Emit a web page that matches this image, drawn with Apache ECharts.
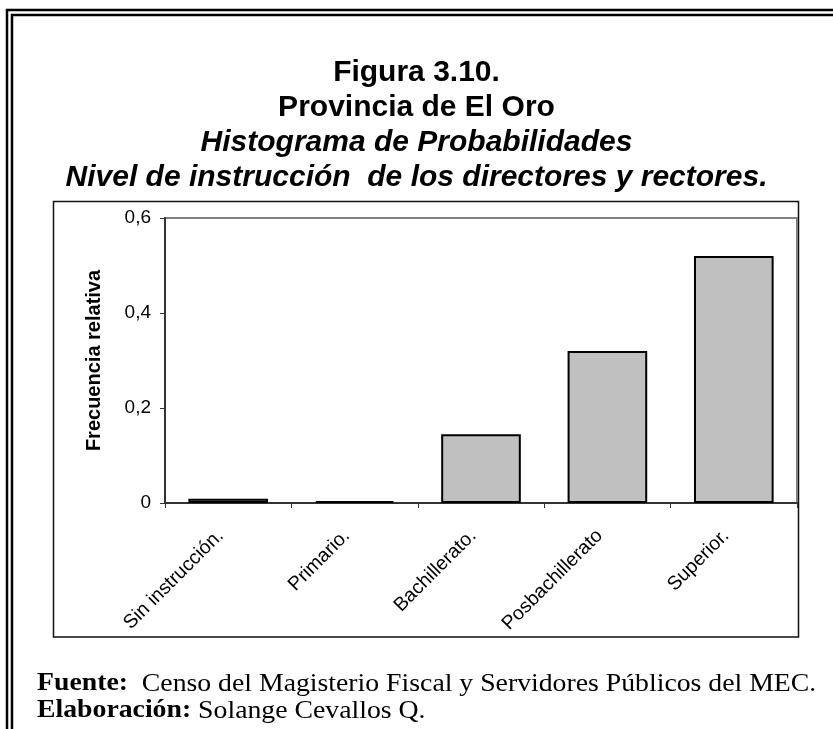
<!DOCTYPE html>
<html>
<head>
<meta charset="utf-8">
<script src="https://cdn.jsdelivr.net/npm/echarts@6/dist/echarts.min.js"></script>
<style>
html,body{margin:0;padding:0;background:#fff;}
#chart{width:833px;height:729px;}
</style>
</head>
<body>
<div id="chart"></div>
<script>
const categories = ['Sin instrucción.', 'Primario.', 'Bachillerato.', 'Posbachillerato', 'Superior.'];
const values = [0.009, 0.004, 0.145, 0.32, 0.52];
const yTicks = { min: 0, max: 0.6, interval: 0.2 };
const titleLines = ['Figura 3.10.', 'Provincia de El Oro', 'Histograma de Probabilidades', 'Nivel de instrucción  de los directores y rectores.'];
const yAxisName = 'Frecuencia relativa';
const sourceLabel = 'Fuente:';
const sourceText = '  Censo del Magisterio Fiscal y Servidores Públicos del MEC.';
const authorLabel = 'Elaboración:';
const authorText = ' Solange Cevallos Q.';

const chart = echarts.init(document.getElementById('chart'), null, { renderer: 'canvas' });

const sans = "'Liberation Sans', Arial, sans-serif";
const serif = "'Liberation Serif', 'Times New Roman', serif";
const titleTops = [58, 93, 128, 163];
const titleStyles = ['normal', 'normal', 'italic', 'italic'];

function footer(label, text, y) {
  return {
    type: 'text',
    x: 37,
    y: y,
    scaleX: 1.11,
    style: {
      text: '{b|' + label + '}{r|' + text + '}',
      verticalAlign: 'middle',
      align: 'left',
      rich: {
        b: { fontFamily: serif, fontWeight: 'bold', fontSize: 25, fill: '#000' },
        r: { fontFamily: serif, fontSize: 25, fill: '#000' }
      }
    }
  };
}

const option = {
  animation: false,
  backgroundColor: '#ffffff',
  title: titleLines.map((t, i) => ({
    text: t,
    left: 'center',
    top: titleTops[i],
    padding: 0,
    textStyle: {
      fontFamily: sans,
      fontWeight: 'bold',
      fontStyle: titleStyles[i],
      fontSize: 30,
      color: '#000'
    }
  })),
  grid: {
    left: 165, right: 36, top: 218, bottom: 226,
    show: true,
    borderColor: '#808080',
    borderWidth: 2,
    backgroundColor: '#fff'
  },
  xAxis: {
    type: 'category',
    data: categories,
    boundaryGap: true,
    axisLine: { lineStyle: { color: '#333', width: 2 } },
    axisTick: { show: true, length: 5, inside: false, lineStyle: { color: '#333', width: 1 } },
    axisLabel: {
      rotate: 45,
      margin: 22,
      padding: [0, 11, 0, 0],
      interval: 0,
      fontFamily: sans,
      fontSize: 19.5,
      color: '#000'
    },
    splitLine: { show: false }
  },
  yAxis: {
    type: 'value',
    min: yTicks.min,
    max: yTicks.max,
    interval: yTicks.interval,
    name: yAxisName,
    nameLocation: 'middle',
    nameGap: 61,
    nameTextStyle: {
      fontFamily: sans,
      fontWeight: 'bold',
      fontSize: 20,
      color: '#000'
    },
    axisLine: { show: true, lineStyle: { color: '#333', width: 2 } },
    axisTick: { show: true, length: 5, lineStyle: { color: '#333', width: 1 } },
    axisLabel: {
      margin: 14,
      fontFamily: sans,
      fontSize: 19,
      color: '#000',
      formatter: v => (v === 0 ? '0' : v.toFixed(1).replace('.', ','))
    },
    splitLine: { show: false }
  },
  series: [{
    type: 'bar',
    data: values,
    barCategoryGap: '37%',
    itemStyle: { color: '#c0c0c0', borderColor: '#000', borderWidth: 2 },
    emphasis: { disabled: true }
  }],
  graphic: [
    { type: 'polyline', shape: { points: [[7, 729], [7, 10], [833, 10]] }, style: { stroke: '#000', lineWidth: 2.5, fill: null } },
    { type: 'polyline', shape: { points: [[12, 729], [12, 15], [833, 15]] }, style: { stroke: '#000', lineWidth: 2.5, fill: null } },
    { type: 'rect', shape: { x: 53.5, y: 201.5, width: 745, height: 435.5 }, style: { stroke: '#111', lineWidth: 1.5, fill: null }, z: -1 },
    footer(sourceLabel, sourceText, 684),
    footer(authorLabel, authorText, 711)
  ]
};
chart.setOption(option);
</script>
</body>
</html>
